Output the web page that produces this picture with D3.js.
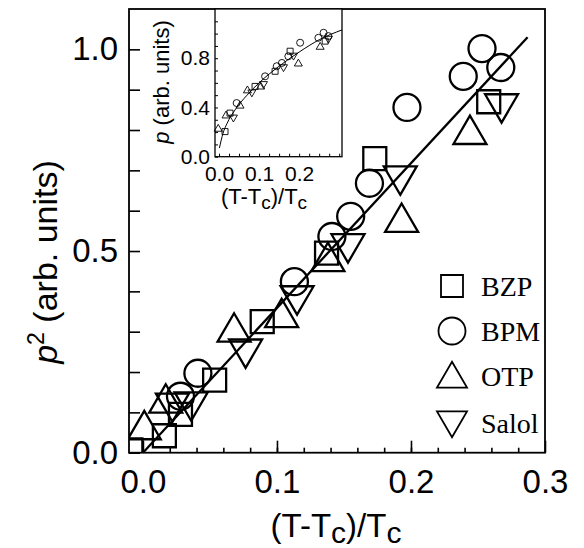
<!DOCTYPE html>
<html>
<head>
<meta charset="utf-8">
<script src="https://cdn.jsdelivr.net/npm/d3@7"></script>
<style>
  body { margin: 0; background: #fff; }
  svg { display: block; }
</style>
</head>
<body>
<div class="graph"></div>
<script>
// main panel: p^2 vs reduced temperature
var bzpX = [-0.009, 0.016, 0.028, 0.0535, 0.089, 0.137, 0.173, 0.258]
var bzpY = [0.007, 0.042, 0.095, 0.180, 0.325, 0.495, 0.729, 0.870]
var bpmX = [0.028, 0.041, 0.113, 0.141, 0.155, 0.169, 0.197, 0.239, 0.253, 0.267]
var bpmY = [0.140, 0.197, 0.424, 0.536, 0.586, 0.668, 0.856, 0.933, 1.002, 0.955]
var otpX = [0.001, 0.017, 0.068, 0.1035, 0.138, 0.193, 0.244]
var otpY = [0.065, 0.131, 0.307, 0.343, 0.482, 0.579, 0.797]
var salolX = [0.022, 0.036, 0.0766, 0.115, 0.153, 0.192, 0.2676]
var salolY = [0.115, 0.118, 0.249, 0.381, 0.510, 0.678, 0.857]
var fitX = [0.0, 0.287]
var fitY = [0.0, 1.03]

// inset: p vs reduced temperature
var inBzpX = [0.015, 0.0275, 0.09, 0.14, 0.1775, 0.265]
var inBzpY = [0.204, 0.354, 0.571, 0.694, 0.857, 0.939]
var inBpmX = [0.044, 0.115, 0.144, 0.157, 0.173, 0.2025, 0.248, 0.261, 0.273]
var inBpmY = [0.436, 0.653, 0.735, 0.762, 0.816, 0.926, 0.966, 1.007, 0.98]
var inOtpX = [-0.002, 0.0175, 0.0525, 0.071, 0.104, 0.198, 0.2525]
var inOtpY = [0.232, 0.34, 0.42, 0.544, 0.575, 0.762, 0.898]
var inSalolX = [0.036, 0.082, 0.111, 0.161, 0.186, 0.273]
var inSalolY = [0.313, 0.517, 0.585, 0.722, 0.816, 0.953]
var inFitX = [0.001, 0.01, 0.02, 0.04, 0.07, 0.1, 0.15, 0.2, 0.25, 0.307]
var inFitY = [0.07, 0.19, 0.27, 0.38, 0.5, 0.6, 0.735, 0.85, 0.95, 1.03]

var legendNames = ["BZP", "BPM", "OTP", "Salol"]
var xTickLabels = [0.0, 0.1, 0.2, 0.3]
var yTickLabels = [0.0, 0.5, 1.0]
var inXTickLabels = [0.0, 0.1, 0.2]
var inYTickLabels = [0.0, 0.4, 0.8]

var W = 584, H = 548
var svg = d3.select(".graph").append("svg").attr("width", W).attr("height", H)

var x = d3.scaleLinear().domain([-0.0104, 0.3]).range([129, 545])
var y = d3.scaleLinear().domain([0, 1.1]).range([452.7, 9])

var sans = "Liberation Sans, Arial, sans-serif"

function zip(xs, ys){
  return xs.map(function(d, i){ return [d, ys[i]] })
}
function isLabel(list){
  return function(d){ return list.some(function(v){ return Math.abs(v - d) < 1e-6 }) ? d3.format(".1f")(d) : "" }
}

// marker shapes
var shapes = {
  square: function(s){ var h = s / 2; return "M" + (-h) + "," + (-h) + "h" + s + "v" + s + "h" + (-s) + "Z" },
  circle: function(s){ var r = s / 2; return "M" + r + ",0A" + r + "," + r + " 0 1,1 " + (-r) + ",0A" + r + "," + r + " 0 1,1 " + r + ",0Z" },
  up: function(s){ var h = s * 0.86; return "M0," + (-h * 0.55) + "L" + (s / 2) + "," + (h * 0.45) + "L" + (-s / 2) + "," + (h * 0.45) + "Z" },
  down: function(s){ var h = s * 0.86; return "M0," + (h * 0.55) + "L" + (s / 2) + "," + (-h * 0.45) + "L" + (-s / 2) + "," + (-h * 0.45) + "Z" }
}

// ---- main plot
svg.append("clipPath").attr("id", "clipMain").append("rect")
  .attr("x", 129).attr("y", 9).attr("width", 416).attr("height", 443.7)

var main = svg.append("g").attr("clip-path", "url(#clipMain)")

var mainSeries = [
  {pts: zip(bzpX, bzpY), shape: "square", size: 23},
  {pts: zip(bpmX, bpmY), shape: "circle", size: 27},
  {pts: zip(otpX, otpY), shape: "up", size: 33},
  {pts: zip(salolX, salolY), shape: "down", size: 33}
]

mainSeries.forEach(function(s){
  main.selectAll(null)
    .data(s.pts)
    .enter()
    .append("path")
    .attr("d", shapes[s.shape](s.size))
    .attr("transform", function(d){ return "translate(" + x(d[0]) + "," + y(d[1]) + ")" })
    .attr("fill", "none")
    .attr("stroke", "#000")
    .attr("stroke-width", 2.3)
})

main.append("path")
  .datum(zip(fitX, fitY))
  .attr("d", d3.line().x(function(d){ return x(d[0]) }).y(function(d){ return y(d[1]) }))
  .attr("fill", "none")
  .attr("stroke", "#000")
  .attr("stroke-width", 2.3)

// axes
var xMinor = d3.axisBottom(x).tickValues(d3.range(0.02, 0.3, 0.02)).tickSize(-5).tickFormat("")
svg.append("g").attr("transform", "translate(0,452.7)").call(xMinor)

var xAxis = d3.axisBottom(x).tickValues(xTickLabels).tickSize(-12).tickPadding(17)
  .tickFormat(d3.format(".1f"))
svg.append("g").attr("transform", "translate(0,452.7)").call(xAxis)
  .selectAll("text").attr("font-size", 33).attr("font-family", sans).attr("fill", "#000")

var yAxis = d3.axisLeft(y).tickValues(d3.range(0, 1.05, 0.1)).tickSize(-11).tickPadding(11)
  .tickFormat(isLabel(yTickLabels))
svg.append("g").attr("transform", "translate(129,0)").call(yAxis)
  .selectAll("text").attr("font-size", 33).attr("font-family", sans).attr("fill", "#000")

svg.selectAll(".domain").remove()
svg.selectAll(".tick line").attr("stroke", "#000").attr("stroke-width", 1.6)

svg.append("rect")
  .attr("x", 129).attr("y", 9).attr("width", 416).attr("height", 443.7)
  .attr("fill", "none").attr("stroke", "#000").attr("stroke-width", 1.8)

// axis titles
var xt = svg.append("text").attr("x", 336).attr("y", 537).attr("text-anchor", "middle")
  .attr("font-size", 33).attr("font-family", sans)
xt.append("tspan").text("(T-T")
xt.append("tspan").attr("dy", 6).attr("font-size", 30).text("c")
xt.append("tspan").attr("dy", -6).text(")/T")
xt.append("tspan").attr("dy", 6).attr("font-size", 30).text("c")

var yt = svg.append("text").attr("transform", "translate(57,262) rotate(-90)").attr("text-anchor", "middle")
  .attr("font-size", 34).attr("font-family", sans)
yt.append("tspan").attr("font-style", "italic").text("p")
yt.append("tspan").attr("dy", -13).attr("font-size", 23).text("2")
yt.append("tspan").attr("dy", 13).text(" (arb. units)")

// legend
var legendShapes = ["square", "circle", "up", "down"]
var legendSizes = [22, 27, 30, 30]
var legendY = [286, 331, 376, 423]
legendNames.forEach(function(name, i){
  svg.append("path")
    .attr("d", shapes[legendShapes[i]](legendSizes[i]))
    .attr("transform", "translate(452," + legendY[i] + ")")
    .attr("fill", "none").attr("stroke", "#000").attr("stroke-width", 1.8)
  svg.append("text").attr("x", 481).attr("y", legendY[i] + 10)
    .attr("font-size", 28).attr("font-family", "Liberation Serif, Times New Roman, serif")
    .text(name)
})

// ---- inset
var ix = d3.scaleLinear().domain([-0.01, 0.307]).range([215, 342])
var iy = d3.scaleLinear().domain([0, 1.2]).range([156.7, 9])

svg.append("rect").attr("x", 215).attr("y", 9).attr("width", 127).attr("height", 147.7)
  .attr("fill", "#fff")

var inset = svg.append("g")
var insetSeries = [
  {pts: zip(inBzpX, inBzpY), shape: "square", size: 6},
  {pts: zip(inBpmX, inBpmY), shape: "circle", size: 7},
  {pts: zip(inOtpX, inOtpY), shape: "up", size: 8},
  {pts: zip(inSalolX, inSalolY), shape: "down", size: 8}
]
insetSeries.forEach(function(s){
  inset.selectAll(null)
    .data(s.pts)
    .enter()
    .append("path")
    .attr("d", shapes[s.shape](s.size))
    .attr("transform", function(d){ return "translate(" + ix(d[0]) + "," + iy(d[1]) + ")" })
    .attr("fill", "none")
    .attr("stroke", "#000")
    .attr("stroke-width", 0.9)
})

inset.append("path")
  .datum(zip(inFitX, inFitY))
  .attr("d", d3.line().curve(d3.curveMonotoneX).x(function(d){ return ix(d[0]) }).y(function(d){ return iy(d[1]) }))
  .attr("fill", "none").attr("stroke", "#000").attr("stroke-width", 1)

var ixAxis = d3.axisBottom(ix).tickValues(d3.range(0, 0.301, 0.025)).tickSize(-3).tickPadding(9)
  .tickFormat(isLabel(inXTickLabels))
var gix = svg.append("g").attr("transform", "translate(0,156.7)").call(ixAxis)
gix.selectAll("text").attr("font-size", 21).attr("font-family", sans).attr("fill", "#000")

var iyAxis = d3.axisLeft(iy).tickValues(d3.range(0, 1.11, 0.1)).tickSize(-3).tickPadding(5)
  .tickFormat(isLabel(inYTickLabels))
var giy = svg.append("g").attr("transform", "translate(215,0)").call(iyAxis)
giy.selectAll("text").attr("font-size", 21).attr("font-family", sans).attr("fill", "#000")

gix.selectAll(".domain").remove()
giy.selectAll(".domain").remove()
gix.selectAll(".tick line").attr("stroke", "#000")
giy.selectAll(".tick line").attr("stroke", "#000")

svg.append("rect").attr("x", 215).attr("y", 9).attr("width", 127).attr("height", 147.7)
  .attr("fill", "none").attr("stroke", "#000").attr("stroke-width", 1.3)

var ixt = svg.append("text").attr("x", 264).attr("y", 204).attr("text-anchor", "middle")
  .attr("font-size", 22).attr("font-family", sans)
ixt.append("tspan").text("(T-T")
ixt.append("tspan").attr("dy", 5).attr("font-size", 19).text("c")
ixt.append("tspan").attr("dy", -5).text(")/T")
ixt.append("tspan").attr("dy", 5).attr("font-size", 19).text("c")

var iyt = svg.append("text").attr("transform", "translate(169,82) rotate(-90)").attr("text-anchor", "middle")
  .attr("font-size", 22).attr("font-family", sans)
iyt.append("tspan").attr("font-style", "italic").text("p")
iyt.append("tspan").text(" (arb. units)")
</script>
</body>
</html>
